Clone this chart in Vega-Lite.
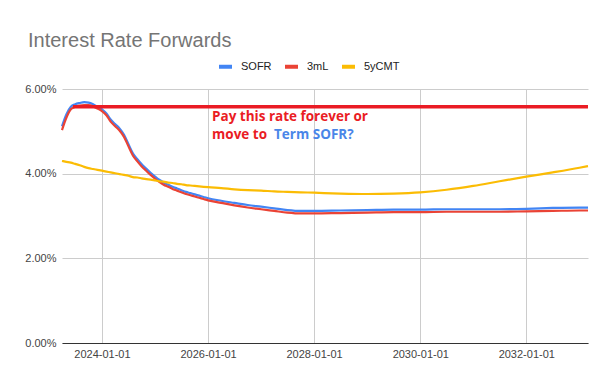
{
  "$schema": "https://vega.github.io/schema/vega-lite/v6.json",
  "width": 526,
  "height": 254,
  "autosize": {"type": "none"},
  "padding": {"left": 62, "top": 89, "right": 22, "bottom": 39},
  "background": "white",
  "title": {
    "text": "Interest Rate Forwards",
    "anchor": "start",
    "frame": "group",
    "orient": "top",
    "font": "Liberation Sans",
    "fontSize": 20,
    "fontWeight": "normal",
    "color": "#757575",
    "dx": -34,
    "dy": 48,
    "offset": 39,
    "baseline": "alphabetic"
  },
  "config": {
    "view": {"stroke": null},
    "axis": {
      "labelFont": "Liberation Sans",
      "labelFontSize": 11,
      "labelColor": "#444444",
      "gridColor": "#cccccc",
      "gridWidth": 1,
      "ticks": false,
      "title": null
    }
  },
  "layer": [
    {
      "data": {
        "values": [
          {"date": "2023-04-01", "SOFR": 5.12, "3mL": 5.03, "5yCMT": 4.30},
          {"date": "2023-05-01", "SOFR": 5.40, "3mL": 5.32, "5yCMT": 4.28},
          {"date": "2023-06-01", "SOFR": 5.58, "3mL": 5.52, "5yCMT": 4.26},
          {"date": "2023-07-01", "SOFR": 5.64, "3mL": 5.58, "5yCMT": 4.23},
          {"date": "2023-08-01", "SOFR": 5.67, "3mL": 5.61, "5yCMT": 4.20},
          {"date": "2023-09-01", "SOFR": 5.69, "3mL": 5.62, "5yCMT": 4.16},
          {"date": "2023-10-01", "SOFR": 5.68, "3mL": 5.62, "5yCMT": 4.13},
          {"date": "2023-11-01", "SOFR": 5.64, "3mL": 5.59, "5yCMT": 4.11},
          {"date": "2023-12-01", "SOFR": 5.58, "3mL": 5.54, "5yCMT": 4.09},
          {"date": "2024-01-01", "SOFR": 5.52, "3mL": 5.48, "5yCMT": 4.07},
          {"date": "2024-02-01", "SOFR": 5.42, "3mL": 5.38, "5yCMT": 4.05},
          {"date": "2024-03-01", "SOFR": 5.28, "3mL": 5.23, "5yCMT": 4.03},
          {"date": "2024-04-01", "SOFR": 5.17, "3mL": 5.12, "5yCMT": 4.01},
          {"date": "2024-05-01", "SOFR": 5.07, "3mL": 5.02, "5yCMT": 3.99},
          {"date": "2024-06-01", "SOFR": 4.92, "3mL": 4.87, "5yCMT": 3.97},
          {"date": "2024-07-01", "SOFR": 4.70, "3mL": 4.65, "5yCMT": 3.95},
          {"date": "2024-08-01", "SOFR": 4.48, "3mL": 4.43, "5yCMT": 3.92},
          {"date": "2024-09-01", "SOFR": 4.34, "3mL": 4.29, "5yCMT": 3.91},
          {"date": "2024-10-01", "SOFR": 4.22, "3mL": 4.17, "5yCMT": 3.89},
          {"date": "2024-11-01", "SOFR": 4.12, "3mL": 4.07, "5yCMT": 3.87},
          {"date": "2024-12-01", "SOFR": 4.02, "3mL": 3.97, "5yCMT": 3.86},
          {"date": "2025-01-01", "SOFR": 3.93, "3mL": 3.88, "5yCMT": 3.84},
          {"date": "2025-02-01", "SOFR": 3.85, "3mL": 3.80, "5yCMT": 3.82},
          {"date": "2025-03-01", "SOFR": 3.79, "3mL": 3.74, "5yCMT": 3.81},
          {"date": "2025-04-01", "SOFR": 3.74, "3mL": 3.69, "5yCMT": 3.79},
          {"date": "2025-05-01", "SOFR": 3.69, "3mL": 3.64, "5yCMT": 3.78},
          {"date": "2025-06-01", "SOFR": 3.65, "3mL": 3.60, "5yCMT": 3.76},
          {"date": "2025-07-01", "SOFR": 3.61, "3mL": 3.56, "5yCMT": 3.75},
          {"date": "2025-08-01", "SOFR": 3.57, "3mL": 3.52, "5yCMT": 3.73},
          {"date": "2025-09-01", "SOFR": 3.54, "3mL": 3.49, "5yCMT": 3.72},
          {"date": "2025-10-01", "SOFR": 3.51, "3mL": 3.46, "5yCMT": 3.71},
          {"date": "2025-11-01", "SOFR": 3.48, "3mL": 3.43, "5yCMT": 3.70},
          {"date": "2025-12-01", "SOFR": 3.45, "3mL": 3.40, "5yCMT": 3.69},
          {"date": "2026-01-01", "SOFR": 3.42, "3mL": 3.37, "5yCMT": 3.68},
          {"date": "2026-04-01", "SOFR": 3.36, "3mL": 3.31, "5yCMT": 3.66},
          {"date": "2026-07-01", "SOFR": 3.31, "3mL": 3.25, "5yCMT": 3.63},
          {"date": "2026-10-01", "SOFR": 3.26, "3mL": 3.20, "5yCMT": 3.61},
          {"date": "2027-01-01", "SOFR": 3.22, "3mL": 3.16, "5yCMT": 3.60},
          {"date": "2027-04-01", "SOFR": 3.18, "3mL": 3.12, "5yCMT": 3.58},
          {"date": "2027-07-01", "SOFR": 3.14, "3mL": 3.08, "5yCMT": 3.57},
          {"date": "2027-10-01", "SOFR": 3.12, "3mL": 3.06, "5yCMT": 3.56},
          {"date": "2028-01-01", "SOFR": 3.12, "3mL": 3.06, "5yCMT": 3.55},
          {"date": "2028-07-01", "SOFR": 3.13, "3mL": 3.07, "5yCMT": 3.53},
          {"date": "2029-01-01", "SOFR": 3.14, "3mL": 3.08, "5yCMT": 3.52},
          {"date": "2029-07-01", "SOFR": 3.15, "3mL": 3.09, "5yCMT": 3.53},
          {"date": "2030-01-01", "SOFR": 3.15, "3mL": 3.09, "5yCMT": 3.56},
          {"date": "2030-07-01", "SOFR": 3.16, "3mL": 3.10, "5yCMT": 3.62},
          {"date": "2031-01-01", "SOFR": 3.16, "3mL": 3.10, "5yCMT": 3.71},
          {"date": "2031-07-01", "SOFR": 3.16, "3mL": 3.10, "5yCMT": 3.82},
          {"date": "2032-01-01", "SOFR": 3.17, "3mL": 3.11, "5yCMT": 3.93},
          {"date": "2032-07-01", "SOFR": 3.19, "3mL": 3.12, "5yCMT": 4.03},
          {"date": "2033-01-01", "SOFR": 3.20, "3mL": 3.13, "5yCMT": 4.14},
          {"date": "2033-03-01", "SOFR": 3.20, "3mL": 3.13, "5yCMT": 4.18}
        ]
      },
      "transform": [{"fold": ["SOFR", "3mL", "5yCMT"], "as": ["series", "value"]}],
      "mark": {"type": "line", "strokeWidth": 2.2, "interpolate": "monotone"},
      "encoding": {
        "x": {
          "field": "date",
          "type": "temporal",
          "scale": {
            "type": "utc",
            "nice": false,
            "domain": [
              {"year": 2023, "month": 4, "date": 1, "utc": true},
              {"year": 2033, "month": 3, "date": 1, "utc": true}
            ]
          },
          "axis": {
            "values": [
              {"year": 2024, "month": 1, "date": 1, "utc": true},
              {"year": 2026, "month": 1, "date": 1, "utc": true},
              {"year": 2028, "month": 1, "date": 1, "utc": true},
              {"year": 2030, "month": 1, "date": 1, "utc": true},
              {"year": 2032, "month": 1, "date": 1, "utc": true}
            ],
            "labelExpr": "utcFormat(datum.value, '%Y-%m-%d')",
            "grid": true,
            "domain": true,
            "domainColor": "#333333",
            "domainWidth": 1,
            "labelPadding": 5,
            "labelFlush": false,
            "labelOverlap": false
          }
        },
        "y": {
          "field": "value",
          "type": "quantitative",
          "scale": {"domain": [0, 6], "nice": false, "zero": true},
          "axis": {
            "values": [0, 2, 4, 6],
            "labelExpr": "format(datum.value, '.2f') + '%'",
            "grid": true,
            "domain": false,
            "labelPadding": 6
          }
        },
        "color": {
          "field": "series",
          "type": "nominal",
          "sort": ["SOFR", "3mL", "5yCMT"],
          "scale": {"domain": ["SOFR", "3mL", "5yCMT"], "range": ["#4285F4", "#EA4335", "#FBBC04"]},
          "legend": {
            "title": null,
            "orient": "none",
            "legendX": 155,
            "legendY": -31,
            "direction": "horizontal",
            "symbolType": "stroke",
            "symbolSize": 169,
            "symbolStrokeWidth": 4,
            "labelFont": "Liberation Sans",
            "labelFontSize": 11,
            "labelColor": "#222222",
            "labelOffset": 7,
            "columnPadding": 5
          }
        }
      }
    },
    {
      "data": {"values": [{"date": "2023-06-15", "rate": 5.58}, {"date": "2033-03-01", "rate": 5.58}]},
      "mark": {"type": "line", "color": "#EA1C24", "strokeWidth": 3.5},
      "encoding": {
        "x": {"field": "date", "type": "temporal"},
        "y": {"field": "rate", "type": "quantitative"}
      }
    },
    {
      "data": {"values": [
        {"date": "2026-01-28", "v": 5.24, "t": "Pay this rate forever or"},
        {"date": "2026-01-28", "v": 4.82, "t": "move to"}
      ]},
      "mark": {"type": "text", "align": "left", "baseline": "alphabetic", "font": "Open Sans", "fontWeight": "bold", "fontSize": 13.5, "color": "#EA1C24"},
      "encoding": {
        "x": {"field": "date", "type": "temporal"},
        "y": {"field": "v", "type": "quantitative"},
        "text": {"field": "t"}
      }
    },
    {
      "data": {"values": [{"date": "2027-03-31", "v": 4.82, "t": "Term SOFR?"}]},
      "mark": {"type": "text", "align": "left", "baseline": "alphabetic", "font": "Open Sans", "fontWeight": "bold", "fontSize": 13.5, "color": "#4A86E8"},
      "encoding": {
        "x": {"field": "date", "type": "temporal"},
        "y": {"field": "v", "type": "quantitative"},
        "text": {"field": "t"}
      }
    }
  ]
}
